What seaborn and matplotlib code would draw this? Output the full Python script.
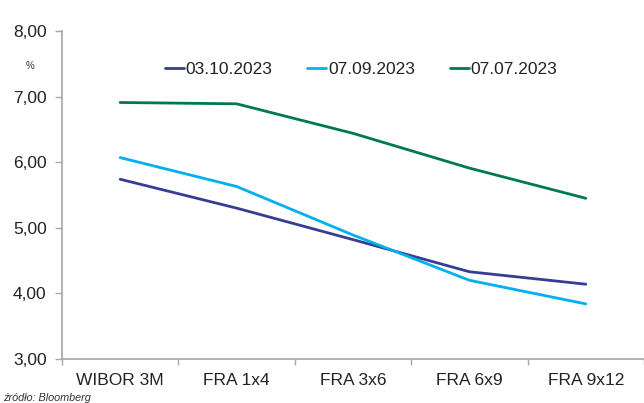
import matplotlib
matplotlib.use("Agg")
import matplotlib.pyplot as plt
import seaborn as sns
import pandas as pd
import numpy as np

categories = ["WIBOR 3M", "FRA 1x4", "FRA 3x6", "FRA 6x9", "FRA 9x12"]
s_0310 = [5.74, 5.30, 4.82, 4.33, 4.14]
s_0709 = [6.07, 5.63, 4.89, 4.20, 3.84]
s_0707 = [6.91, 6.89, 6.44, 5.91, 5.45]
series_names = ["03.10.2023", "07.09.2023", "07.07.2023"]
colors = ["#353E92", "#00B0F0", "#007A4B"]
yticks = [3, 4, 5, 6, 7, 8]

sns.set_theme(style="white")
plt.rcParams["font.family"] = ["Liberation Sans", "DejaVu Sans"]

rows = []
for name, vals in zip(series_names, [s_0310, s_0709, s_0707]):
    for i, (c, v) in enumerate(zip(categories, vals)):
        rows.append({"pos": i, "cat": c, "value": v, "series": name})
df = pd.DataFrame(rows)

W, H = 644, 403
fig = plt.figure(figsize=(W / 100, H / 100), dpi=100)
left, right = 62, 644
bottom, top = 359, 31
ax = fig.add_axes([left / W, (H - bottom) / H, (right - left) / W, (bottom - top) / H])

sns.lineplot(data=df, x="pos", y="value", hue="series", hue_order=series_names,
             palette=colors, linewidth=2.0, ax=ax, legend=True)

unit = 118.7
ax.set_xlim(-0.5, -0.5 + (right - left) / unit)
ax.set_ylim(3, 8)
ax.set_xticks(range(len(categories)))
ax.set_xticklabels(categories, fontsize=12.5, color="#222222")
ax.set_xticks(np.arange(-0.5, len(categories), 1.0), minor=True)
ax.tick_params(axis="x", which="major", length=0, pad=10)
ax.tick_params(axis="x", which="minor", length=4, width=1, color="#A6A6A6", direction="out", bottom=True)
ax.set_yticks(yticks)
ax.set_yticklabels([f"{t:.2f}".replace(".", ",") for t in yticks], fontsize=12.5, color="#222222")
ax.tick_params(axis="y", length=5, width=1, color="#A6A6A6", direction="out", left=True, pad=6)
ax.set_xlabel("")
ax.set_ylabel("")
for s in ["top", "right"]:
    ax.spines[s].set_visible(False)
for s in ["left", "bottom"]:
    ax.spines[s].set_color("#A6A6A6")
    ax.spines[s].set_linewidth(1.2)
ax.grid(False)

leg = ax.legend(loc="upper center", bbox_to_anchor=((361 - left) / (right - left), 1 - (46 - top) / (bottom - top)),
                ncol=3, frameon=False, fontsize=12.5, handlelength=1.1, handletextpad=0.1,
                columnspacing=2.0)
for t in leg.get_texts():
    t.set_color("#222222")

fig.text(30 / W, 1 - 66 / H, "%", fontsize=7, color="#333333", ha="center", va="center")
fig.text(3 / W, 1 - 398 / H, "źródło: Bloomberg", fontsize=7.8, style="italic", color="#333333", ha="left", va="center")

fig.savefig("out.png", dpi=100)
